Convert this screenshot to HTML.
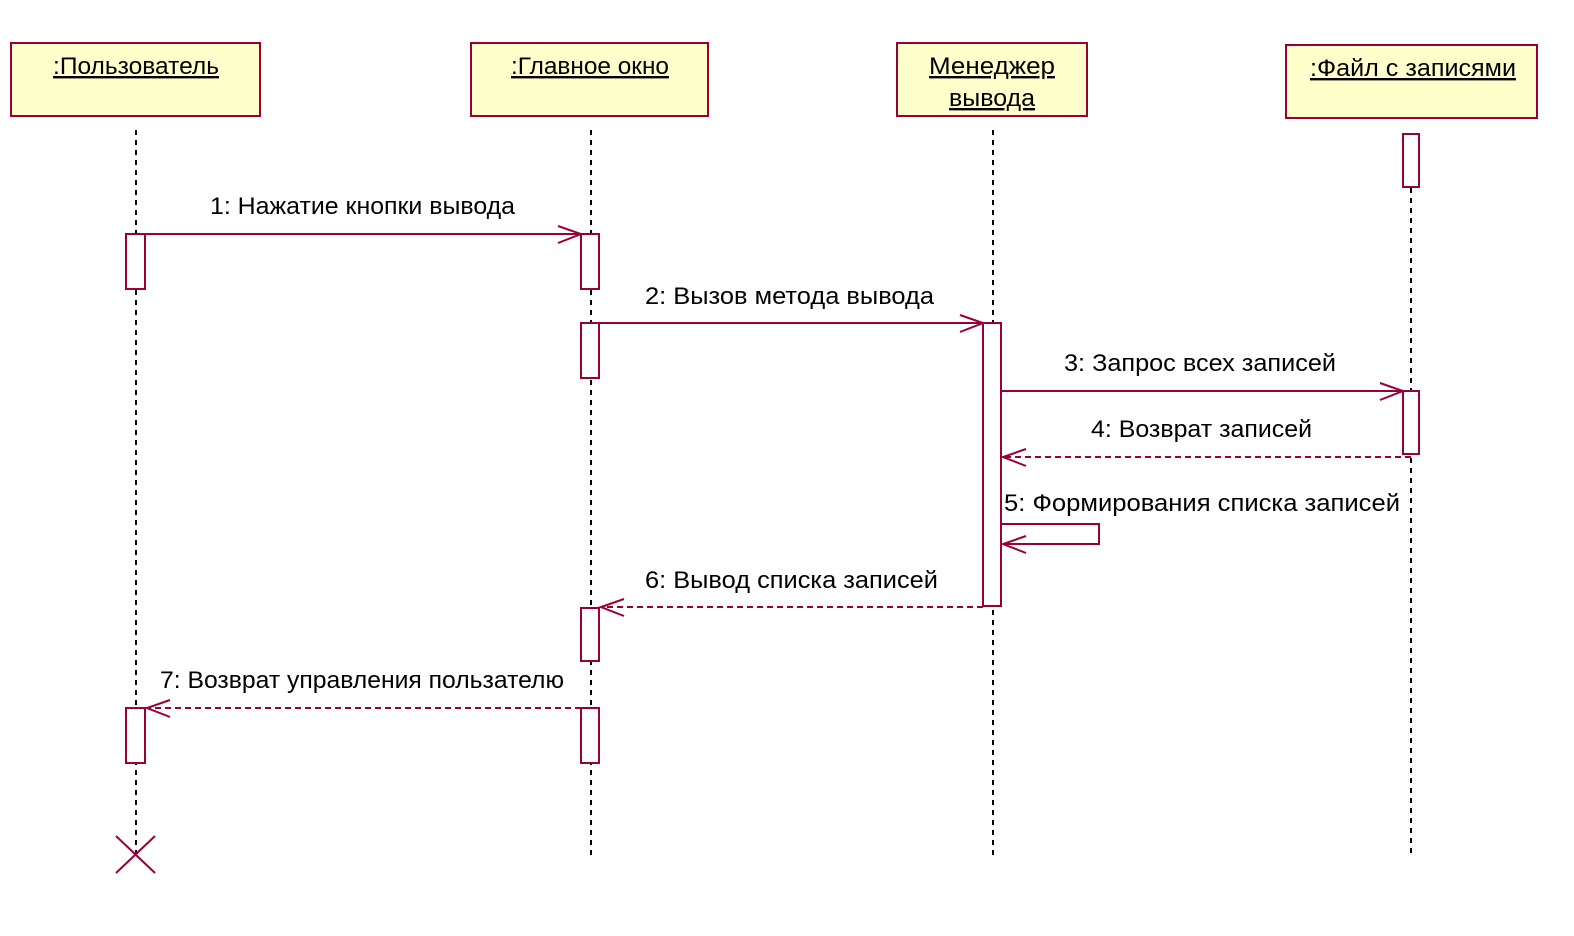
<!DOCTYPE html>
<html><head><meta charset="utf-8"><style>
html,body{margin:0;padding:0;background:#fff;overflow:hidden;width:1574px;height:936px}
svg{display:block}
text{font-family:"Liberation Sans",sans-serif;font-size:24px;fill:#000}
</style></head><body>
<svg width="1574" height="936" viewBox="0 0 1574 936" xmlns="http://www.w3.org/2000/svg">
<g fill="#ffffcc" stroke="#990033" stroke-width="2">
<rect x="11" y="43" width="249" height="73"/>
<rect x="471" y="43" width="237" height="73"/>
<rect x="897" y="43" width="190" height="73"/>
<rect x="1286" y="45" width="251" height="73"/>
</g>
<g text-anchor="middle" text-decoration="underline">
<text x="136" y="74" textLength="166" lengthAdjust="spacingAndGlyphs">:Пользователь</text>
<text x="590" y="74" textLength="158" lengthAdjust="spacingAndGlyphs">:Главное окно</text>
<text x="992" y="74" textLength="126" lengthAdjust="spacingAndGlyphs">Менеджер</text>
<text x="992" y="106" textLength="86" lengthAdjust="spacingAndGlyphs">вывода</text>
<text x="1413" y="76" textLength="206" lengthAdjust="spacingAndGlyphs">:Файл с записями</text>
</g>
<g stroke="#000" stroke-width="2" stroke-dasharray="5,5">
<line x1="136" y1="130" x2="136" y2="855"/>
<line x1="591" y1="130" x2="591" y2="855"/>
<line x1="993" y1="130" x2="993" y2="855"/>
<line x1="1411" y1="188" x2="1411" y2="855"/>
</g>
<g fill="#fff" stroke="#990033" stroke-width="2">
<rect x="126" y="234" width="19" height="55"/>
<rect x="581" y="234" width="18" height="55"/>
<rect x="581" y="323" width="18" height="55"/>
<rect x="983" y="323" width="18" height="283"/>
<rect x="1403" y="134" width="16" height="53"/>
<rect x="1403" y="391" width="16" height="63"/>
<rect x="581" y="608" width="18" height="53"/>
<rect x="126" y="708" width="19" height="55"/>
<rect x="581" y="708" width="18" height="55"/>
</g>
<g fill="none" stroke="#990033" stroke-width="2">
<line x1="145" y1="234" x2="581" y2="234"/>
<polyline points="558,226 581,234 558,243"/>
<line x1="599" y1="323" x2="983" y2="323"/>
<polyline points="960,315 983,323 960,332"/>
<line x1="1001" y1="391" x2="1403" y2="391"/>
<polyline points="1380,383 1403,391 1380,400"/>
<line x1="1411" y1="457" x2="1003" y2="457" stroke-dasharray="6,4"/>
<polyline points="1026,449 1003,457 1026,466"/>
<polyline points="1001,524 1099,524 1099,544 1003,544"/>
<polyline points="1026,536 1003,544 1026,553"/>
<line x1="983" y1="607" x2="601" y2="607" stroke-dasharray="6,4"/>
<polyline points="624,599 601,607 624,616"/>
<line x1="581" y1="708" x2="147" y2="708" stroke-dasharray="6,4"/>
<polyline points="170,700 147,708 170,717"/>
<line x1="116" y1="836" x2="155" y2="873"/>
<line x1="155" y1="836" x2="116" y2="873"/>
</g>
<text x="210" y="214" textLength="305" lengthAdjust="spacingAndGlyphs">1: Нажатие кнопки вывода</text>
<text x="645" y="304" textLength="289" lengthAdjust="spacingAndGlyphs">2: Вызов метода вывода</text>
<text x="1064" y="371" textLength="272" lengthAdjust="spacingAndGlyphs">3: Запрос  всех записей</text>
<text x="1091" y="437" textLength="221" lengthAdjust="spacingAndGlyphs">4: Возврат записей</text>
<text x="1004" y="511" textLength="396" lengthAdjust="spacingAndGlyphs">5: Формирования  списка записей</text>
<text x="645" y="588" textLength="293" lengthAdjust="spacingAndGlyphs">6: Вывод списка записей</text>
<text x="160" y="688" textLength="404" lengthAdjust="spacingAndGlyphs">7: Возврат управления пользателю</text>
</svg>
</body></html>
